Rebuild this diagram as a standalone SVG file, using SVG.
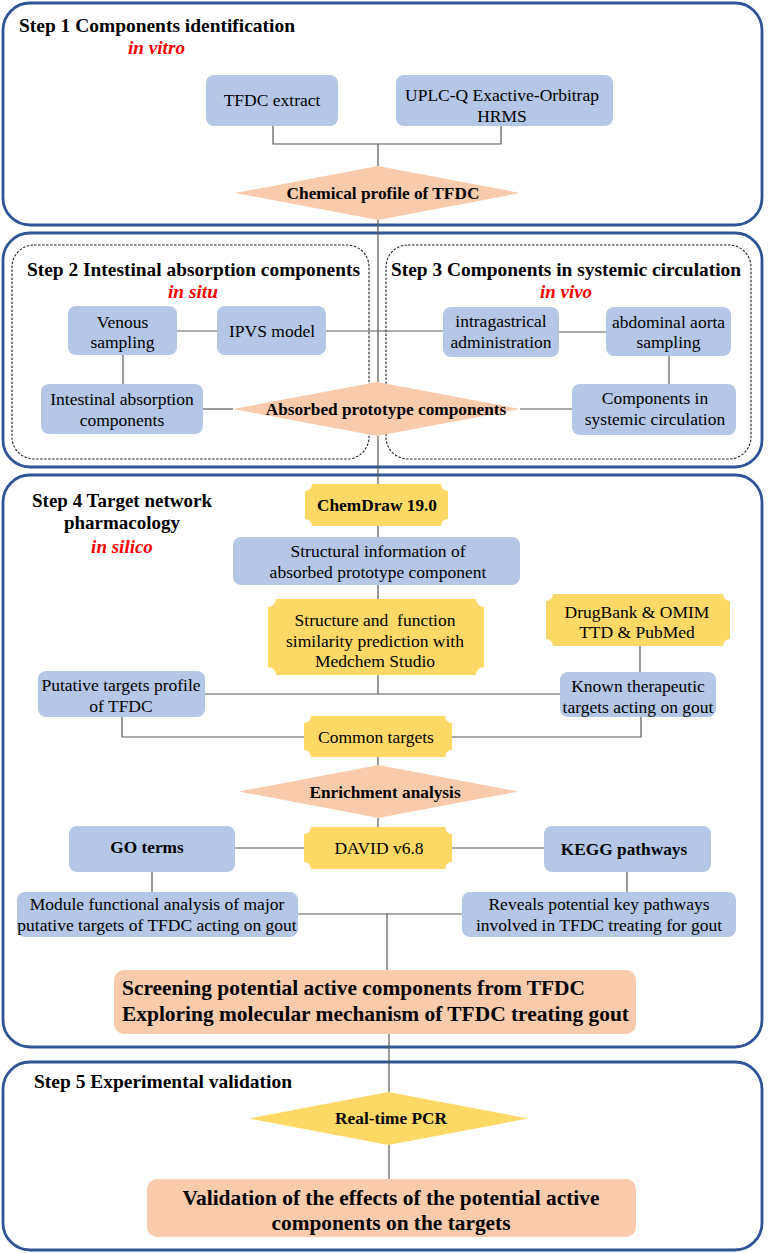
<svg xmlns="http://www.w3.org/2000/svg" width="768" height="1253" viewBox="0 0 768 1253" font-family="'Liberation Serif', 'DejaVu Serif', serif">
<style>
.panel{fill:#fff;stroke:#2f5597;stroke-width:2.8}
.dash{fill:none;stroke:#222;stroke-width:1.1;stroke-dasharray:2.5,1.5}
.box{fill:#b4c7e7}
.sal{fill:#f8cbad}
.yel{fill:#ffd966}
.con{fill:none;stroke:#595959;stroke-width:1.2}
text{font-family:'Liberation Serif','DejaVu Serif',serif;fill:#000}
.t{font-size:17.5px;text-anchor:middle}
.b{font-size:17.3px;font-weight:bold;text-anchor:middle}
.title{font-size:19px;font-weight:bold}
.red{font-size:19px;font-weight:bold;font-style:italic;fill:#ff0000}
.big{font-size:21px;font-weight:bold}
</style>
<g id="panels">
<rect class="panel" x="3" y="3" width="759" height="222" rx="27"/>
<rect class="panel" x="3" y="233" width="759" height="234" rx="27"/>
<rect class="panel" x="3" y="475" width="759" height="572" rx="27"/>
<rect class="panel" x="3" y="1062" width="759" height="188" rx="27"/>
<rect class="dash" x="12" y="245" width="357" height="214" rx="22"/>
<rect class="dash" x="386" y="245" width="365" height="214" rx="22"/>
</g>
<g id="titles">
<text class="title" x="19" y="32" textLength="276" lengthAdjust="spacingAndGlyphs">Step 1 Components identification</text>
<text class="red" x="128" y="54" textLength="57" lengthAdjust="spacingAndGlyphs">in vitro</text>
<text class="title" x="27" y="276" textLength="333" lengthAdjust="spacingAndGlyphs">Step 2 Intestinal absorption components</text>
<text class="red" x="168" y="298" textLength="50" lengthAdjust="spacingAndGlyphs">in situ</text>
<text class="title" x="391" y="276" textLength="350" lengthAdjust="spacingAndGlyphs">Step 3 Components in systemic circulation</text>
<text class="red" x="540" y="298" textLength="52" lengthAdjust="spacingAndGlyphs">in vivo</text>
<text class="title" x="122" y="507" text-anchor="middle">Step 4 Target network</text>
<text class="title" x="122" y="529" text-anchor="middle">pharmacology</text>
<text class="red" x="122" y="553" text-anchor="middle">in silico</text>
<text class="title" x="34" y="1088" textLength="258" lengthAdjust="spacingAndGlyphs">Step 5 Experimental validation</text>
</g>
<g id="connectors">
<path class="con" d="M273,126 V144 H501 V126"/>
<path class="con" d="M378,144 V166"/>
<path class="con" d="M378,220 V382"/>
<path class="con" d="M177,331 H217"/>
<path class="con" d="M326,331 H443"/>
<path class="con" d="M559,332 H606"/>
<path class="con" d="M669,356 V384"/>
<path class="con" d="M572,409 H520"/>
<path class="con" d="M123,355 V384"/>
<path class="con" d="M203,409 H233"/>
<path class="con" d="M378,436 V484"/>
<path class="con" d="M378,526 V537"/>
<path class="con" d="M378,585 V599"/>
<path class="con" d="M378,675 V694"/>
<path class="con" d="M205,694 H560"/>
<path class="con" d="M640,646 V672"/>
<path class="con" d="M122,717 V737 H304"/>
<path class="con" d="M452,737 H641 V717"/>
<path class="con" d="M378,757 V765"/>
<path class="con" d="M378,818 V827"/>
<path class="con" d="M235,848 H304 M452,848 H544"/>
<path class="con" d="M152,872 V892 M627,872 V892"/>
<path class="con" d="M298,914 H462"/>
<path class="con" d="M387,914 V970"/>
<path class="con" d="M389,1034 V1092"/>
<path class="con" d="M389,1145 V1179"/>
</g>
<g id="tfdc-extract"><rect class="box" x="206" y="75" width="132" height="51" rx="8"/><text class="t" x="272" y="106">TFDC extract</text></g>
<g id="uplc"><rect class="box" x="396" y="75" width="217" height="51" rx="8"/><text class="t" x="502" y="101">UPLC-Q Exactive-Orbitrap</text><text class="t" x="502" y="122">HRMS</text></g>
<g id="chemical-profile"><polygon class="sal" points="235,193 378,166 520,193 378,220"/><text class="b" x="383" y="199">Chemical profile of TFDC</text></g>
<g id="venous"><rect class="box" x="68" y="306" width="109" height="49" rx="8"/><text class="t" x="122.5" y="328">Venous</text><text class="t" x="122.5" y="348">sampling</text></g>
<g id="ipvs"><rect class="box" x="217" y="306" width="109" height="49" rx="8"/><text class="t" x="272" y="337">IPVS model</text></g>
<g id="intragastrical"><rect class="box" x="443" y="307" width="116" height="50" rx="8"/><text class="t" x="501" y="327">intragastrical</text><text class="t" x="501" y="348">administration</text></g>
<g id="abdominal"><rect class="box" x="606" y="307" width="125" height="49" rx="8"/><text class="t" x="668.5" y="328">abdominal aorta</text><text class="t" x="668.5" y="348">sampling</text></g>
<g id="intestinal"><rect class="box" x="41" y="384" width="162" height="50" rx="8"/><text class="t" x="122" y="405">Intestinal absorption</text><text class="t" x="122" y="426">components</text></g>
<g id="systemic"><rect class="box" x="572" y="384" width="164" height="51" rx="8"/><text class="t" x="655" y="404">Components in</text><text class="t" x="655" y="425">systemic circulation</text></g>
<g id="absorbed"><polygon class="sal" points="233,409 377,382 520,409 377,436"/><text class="b" x="386" y="415">Absorbed prototype components</text></g>
<g id="chemdraw"><path class="yel" d="M312,484 H441 A7,7 0 0 0 448,491 V519 A7,7 0 0 0 441,526 H312 A7,7 0 0 0 305,519 V491 A7,7 0 0 0 312,484 Z"/><text class="b" x="377" y="511">ChemDraw 19.0</text></g>
<g id="structural"><rect class="box" x="233" y="537" width="287" height="48" rx="8"/><text class="t" x="378" y="557">Structural information of</text><text class="t" x="378" y="578">absorbed prototype component</text></g>
<g id="similarity"><path class="yel" d="M276,599 H476 A8,8 0 0 0 484,607 V667 A8,8 0 0 0 476,675 H276 A8,8 0 0 0 268,667 V607 A8,8 0 0 0 276,599 Z"/><text class="t" x="375" y="626" xml:space="preserve">Structure and  function</text><text class="t" x="375" y="647">similarity prediction with</text><text class="t" x="375" y="667">Medchem Studio</text></g>
<g id="drugbank"><path class="yel" d="M553,594 H723 A7,7 0 0 0 730,601 V639 A7,7 0 0 0 723,646 H553 A7,7 0 0 0 546,639 V601 A7,7 0 0 0 553,594 Z"/><text class="t" x="637" y="618">DrugBank &amp; OMIM</text><text class="t" x="637" y="638">TTD &amp; PubMed</text></g>
<g id="putative"><rect class="box" x="38" y="671" width="167" height="46" rx="8"/><text class="t" x="121" y="691">Putative targets profile</text><text class="t" x="121" y="712">of TFDC</text></g>
<g id="known"><rect class="box" x="560" y="672" width="156" height="45" rx="8"/><text class="t" x="638" y="692">Known therapeutic</text><text class="t" x="638" y="713">targets acting on gout</text></g>
<g id="common"><path class="yel" d="M311,716 H445 A7,7 0 0 0 452,723 V750 A7,7 0 0 0 445,757 H311 A7,7 0 0 0 304,750 V723 A7,7 0 0 0 311,716 Z"/><text class="t" x="376" y="743">Common targets</text></g>
<g id="enrichment"><polygon class="sal" points="239,791.5 378.5,765 518,791.5 378.5,818"/><text class="b" x="385" y="798">Enrichment analysis</text></g>
<g id="david"><path class="yel" d="M311,827 H445 A7,7 0 0 0 452,834 V862 A7,7 0 0 0 445,869 H311 A7,7 0 0 0 304,862 V834 A7,7 0 0 0 311,827 Z"/><text class="t" x="379" y="854">DAVID v6.8</text></g>
<g id="go"><rect class="box" x="69" y="826" width="166" height="46" rx="8"/><text class="b" x="147" y="853">GO terms</text></g>
<g id="kegg"><rect class="box" x="544" y="826" width="167" height="46" rx="8"/><text class="b" x="624" y="855">KEGG pathways</text></g>
<g id="module"><rect class="box" x="17" y="892" width="281" height="45" rx="8"/><text class="t" x="157" y="910">Module functional analysis of major</text><text class="t" x="157" y="931">putative targets of TFDC acting on gout</text></g>
<g id="reveals"><rect class="box" x="462" y="892" width="274" height="45" rx="8"/><text class="t" x="599" y="910">Reveals potential key pathways</text><text class="t" x="599" y="931">involved in TFDC treating for gout</text></g>
<g id="screening"><rect class="sal" x="114" y="970" width="522" height="64" rx="10"/><text class="big" x="122" y="995" textLength="463" lengthAdjust="spacingAndGlyphs">Screening potential active components from TFDC</text><text class="big" x="122" y="1021" textLength="507" lengthAdjust="spacingAndGlyphs">Exploring molecular mechanism of TFDC treating gout</text></g>
<g id="pcr"><polygon class="yel" points="249,1118.5 388.5,1092 528,1118.5 388.5,1145"/><text class="b" x="391" y="1124">Real-time PCR</text></g>
<g id="validation"><rect class="sal" x="147" y="1179" width="489" height="58" rx="10"/><text class="big" x="391" y="1205" text-anchor="middle" textLength="417" lengthAdjust="spacingAndGlyphs">Validation of the effects of the potential active</text><text class="big" x="391" y="1230" text-anchor="middle" textLength="239" lengthAdjust="spacingAndGlyphs">components on the targets</text></g>
</svg>
